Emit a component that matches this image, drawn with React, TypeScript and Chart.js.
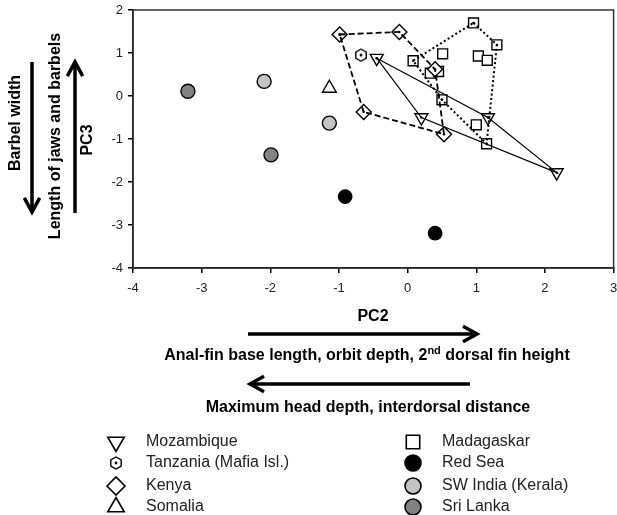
import React, { useEffect, useRef } from 'react';
import { Chart, registerables } from 'chart.js';
import { drawPoint } from 'chart.js/helpers';

Chart.register(...registerables);

// ---------- data ----------
const xTickValues = [-4, -3, -2, -1, 0, 1, 2, 3];
const yTickValues = [-4, -3, -2, -1, 0, 1, 2];

const mozambiqueX = [-0.45, 0.2, 2.17, 1.17];
const mozambiqueY = [0.88, -0.5, -1.78, -0.5];

const tanzaniaX = [-0.68];
const tanzaniaY = [0.95];

const kenyaX = [-0.99, -0.12, 0.4, 0.53, -0.64];
const kenyaY = [1.43, 1.49, 0.62, -0.89, -0.37];

const somaliaX = [-1.14];
const somaliaY = [0.18];

const madagaskarX = [0.96, 1.3, 1.15, 0.5, 0.08, 0.51, 1.03, 1.16, 0.33, 0.45, 1.0];
const madagaskarY = [1.7, 1.19, -1.11, -0.09, 0.82, 0.98, 0.93, 0.83, 0.53, 0.57, -0.67];
const madagaskarHull = [0, 1, 2, 3, 4];

const redSeaX = [-0.91, 0.4];
const redSeaY = [-2.34, -3.19];

const indiaX = [-2.09, -1.14];
const indiaY = [0.34, -0.63];

const sriLankaX = [-3.2, -1.99];
const sriLankaY = [0.11, -1.37];

const legendLeft = ['Mozambique', 'Tanzania (Mafia Isl.)', 'Kenya', 'Somalia'];
const legendRight = ['Madagaskar', 'Red Sea', 'SW India (Kerala)', 'Sri Lanka'];

const FONT = '"Liberation Sans", Arial, Helvetica, sans-serif';
const CANVAS_W = 623;

const pts = (xs: number[], ys: number[]) => xs.map((x, i) => ({ x, y: ys[i] }));
const closed = (xs: number[], ys: number[], idx?: number[]) => {
  const order = idx ?? xs.map((_, i) => i);
  const arr = order.map((i) => ({ x: xs[i], y: ys[i] }));
  arr.push({ x: xs[order[0]], y: ys[order[0]] });
  return arr;
};

function makeHexagon(r: number): HTMLCanvasElement {
  const c = document.createElement('canvas');
  const s = Math.ceil(2 * r + 4);
  c.width = s;
  c.height = s;
  const g = c.getContext('2d')!;
  const cx = s / 2;
  const cy = s / 2;
  g.strokeStyle = '#000';
  g.fillStyle = '#fff';
  g.lineWidth = 1.4;
  g.beginPath();
  for (let i = 0; i < 6; i++) {
    const a = ((-90 + 60 * i) * Math.PI) / 180;
    const px = cx + r * Math.cos(a);
    const py = cy + r * Math.sin(a);
    if (i === 0) g.moveTo(px, py);
    else g.lineTo(px, py);
  }
  g.closePath();
  g.fill();
  g.stroke();
  g.fillStyle = '#000';
  g.beginPath();
  g.arc(cx, cy, 1.4, 0, Math.PI * 2);
  g.fill();
  return c;
}

type Marker = { style: any; radius: number; legendRadius: number; rotation: number; fill: string };

function arrow(ctx: CanvasRenderingContext2D, x1: number, y1: number, x2: number, y2: number) {
  const head = 16;
  const ang = Math.atan2(y2 - y1, x2 - x1);
  ctx.beginPath();
  ctx.moveTo(x1, y1);
  ctx.lineTo(x2 - Math.cos(ang) * 1.5, y2 - Math.sin(ang) * 1.5);
  ctx.stroke();
  ctx.beginPath();
  ctx.moveTo(x2 - head * Math.cos(ang - 0.5), y2 - head * Math.sin(ang - 0.5));
  ctx.lineTo(x2, y2);
  ctx.lineTo(x2 - head * Math.cos(ang + 0.5), y2 - head * Math.sin(ang + 0.5));
  ctx.stroke();
}

function vText(ctx: CanvasRenderingContext2D, text: string, x: number, y: number) {
  ctx.save();
  ctx.translate(x, y);
  ctx.rotate(-Math.PI / 2);
  ctx.fillText(text, 0, 0);
  ctx.restore();
}

export default function App() {
  const ref = useRef<HTMLCanvasElement>(null);

  useEffect(() => {
    if (!ref.current) return;
    const hex = makeHexagon(6);

    const markers: Record<string, Marker> = {
      Mozambique: { style: 'triangle', radius: 7.5, legendRadius: 9.5, rotation: 180, fill: '#fff' },
      'Tanzania (Mafia Isl.)': { style: hex, radius: 6, legendRadius: 6, rotation: 0, fill: '#fff' },
      Kenya: { style: 'rectRot', radius: 7.5, legendRadius: 9, rotation: 0, fill: '#fff' },
      Somalia: { style: 'triangle', radius: 8, legendRadius: 9.5, rotation: 0, fill: '#fff' },
      Madagaskar: { style: 'rect', radius: 7, legendRadius: 9.5, rotation: 0, fill: '#fff' },
      'Red Sea': { style: 'circle', radius: 6.7, legendRadius: 8, rotation: 0, fill: '#000' },
      'SW India (Kerala)': { style: 'circle', radius: 7, legendRadius: 8, rotation: 0, fill: '#c4c4c4' },
      'Sri Lanka': { style: 'circle', radius: 7, legendRadius: 8, rotation: 0, fill: '#828282' },
    };

    const pointDs = (label: string, data: { x: number; y: number }[]) => {
      const m = markers[label];
      return {
        label,
        data,
        order: 2,
        showLine: false,
        pointStyle: m.style,
        pointRadius: m.radius,
        pointRotation: m.rotation,
        pointBackgroundColor: m.fill,
        pointBorderColor: '#000',
        pointBorderWidth: 1.4,
        pointHoverRadius: m.radius,
      };
    };

    const hullDs = (label: string, data: { x: number; y: number }[], dash: number[], width: number) => ({
      label,
      data,
      order: 0,
      showLine: true,
      borderColor: '#000',
      borderWidth: width,
      borderDash: dash,
      pointRadius: 1.2,
      pointStyle: 'circle',
      pointBackgroundColor: '#000',
      pointBorderWidth: 0,
      fill: false,
      tension: 0,
    });

    const decor = {
      id: 'decor',
      afterDraw(chart: any) {
        const ctx: CanvasRenderingContext2D = chart.ctx;
        const a = chart.chartArea;
        ctx.save();
        ctx.strokeStyle = '#333';
        ctx.lineWidth = 1.5;
        ctx.strokeRect(a.left, a.top, a.right - a.left, a.bottom - a.top);

        ctx.fillStyle = '#000';
        ctx.strokeStyle = '#000';
        ctx.lineWidth = 3.5;
        ctx.lineCap = 'butt';
        ctx.lineJoin = 'miter';

        const B = `bold 16px ${FONT}`;
        // horizontal annotation
        ctx.font = B;
        ctx.textAlign = 'center';
        ctx.textBaseline = 'middle';
        ctx.fillText('PC2', 373, 317);
        arrow(ctx, 248, 334, 477, 334);

        const p1 = 'Anal-fin base length, orbit depth, 2';
        const sup = 'nd';
        const p2 = ' dorsal fin height';
        ctx.font = B;
        const w1 = ctx.measureText(p1).width;
        const w3 = ctx.measureText(p2).width;
        ctx.font = `bold 11px ${FONT}`;
        const w2 = ctx.measureText(sup).width;
        const x0 = 367 - (w1 + w2 + w3) / 2;
        ctx.textAlign = 'left';
        ctx.font = B;
        ctx.fillText(p1, x0, 356);
        ctx.font = `bold 11px ${FONT}`;
        ctx.fillText(sup, x0 + w1, 351);
        ctx.font = B;
        ctx.fillText(p2, x0 + w1 + w2, 356);

        arrow(ctx, 470, 384, 250, 384);
        ctx.textAlign = 'center';
        ctx.fillText('Maximum head depth, interdorsal distance', 368, 408);

        // vertical annotation
        arrow(ctx, 32, 62, 32, 212);
        arrow(ctx, 75, 213, 75, 62);
        ctx.font = B;
        vText(ctx, 'Barbel width', 16, 123);
        vText(ctx, 'Length of jaws and barbels', 56, 136);
        vText(ctx, 'PC3', 88, 140);

        // legend
        const rowsY = [442, 463, 486, 507];
        const drawCol = (labels: string[], mx: number, tx: number) => {
          labels.forEach((lab, i) => {
            const m = markers[lab];
            ctx.save();
            ctx.fillStyle = m.fill;
            ctx.strokeStyle = '#000';
            ctx.lineWidth = 1.6;
            ctx.setLineDash([]);
            drawPoint(ctx, { pointStyle: m.style, radius: m.legendRadius, rotation: m.rotation, borderWidth: 1.6 } as any, mx, rowsY[i]);
            ctx.restore();
            ctx.fillStyle = '#222';
            ctx.font = `16px ${FONT}`;
            ctx.textAlign = 'left';
            ctx.textBaseline = 'middle';
            ctx.fillText(lab, tx, rowsY[i]);
          });
        };
        drawCol(legendLeft, 116, 146);
        drawCol(legendRight, 413, 442);
        ctx.restore();
      },
    };

    const chart = new Chart(ref.current, {
      type: 'scatter',
      data: {
        datasets: [
          hullDs('Mozambique hull', closed(mozambiqueX, mozambiqueY), [], 1.2),
          hullDs('Kenya hull', closed(kenyaX, kenyaY), [6, 3], 1.8),
          hullDs('Madagaskar hull', closed(madagaskarX, madagaskarY, madagaskarHull), [2, 2.5], 2),
          pointDs('Mozambique', pts(mozambiqueX, mozambiqueY)),
          pointDs('Tanzania (Mafia Isl.)', pts(tanzaniaX, tanzaniaY)),
          pointDs('Kenya', pts(kenyaX, kenyaY)),
          pointDs('Somalia', pts(somaliaX, somaliaY)),
          pointDs('Madagaskar', pts(madagaskarX, madagaskarY)),
          pointDs('Red Sea', pts(redSeaX, redSeaY)),
          pointDs('SW India (Kerala)', pts(indiaX, indiaY)),
          pointDs('Sri Lanka', pts(sriLankaX, sriLankaY)),
        ] as any,
      },
      options: {
        animation: false,
        responsive: false,
        devicePixelRatio: 1,
        layout: { padding: { left: 0, top: 10, right: 4, bottom: 217 } },
        plugins: { legend: { display: false }, tooltip: { enabled: false } },
        events: [],
        scales: {
          x: {
            type: 'linear',
            min: xTickValues[0],
            max: xTickValues[xTickValues.length - 1],
            afterBuildTicks: (s: any) => {
              s.ticks = xTickValues.map((v) => ({ value: v }));
            },
            afterFit: (s: any) => {
              s.height = 30;
              s.paddingLeft = 0;
              s.paddingRight = 0;
            },
            ticks: { color: '#222', font: { family: FONT, size: 13 }, padding: 8, maxRotation: 0 },
            grid: { drawOnChartArea: false, drawTicks: true, tickLength: 5, color: '#000', lineWidth: 1.5 },
            border: { display: true, color: '#000', width: 1.5 },
          },
          y: {
            type: 'linear',
            min: yTickValues[0],
            max: yTickValues[yTickValues.length - 1],
            afterBuildTicks: (s: any) => {
              s.ticks = yTickValues.map((v) => ({ value: v }));
            },
            afterFit: (s: any) => {
              s.width = 133;
              s.paddingTop = 0;
              s.paddingBottom = 0;
            },
            ticks: { color: '#222', font: { family: FONT, size: 13 }, padding: 5 },
            grid: { drawOnChartArea: false, drawTicks: true, tickLength: 5, color: '#000', lineWidth: 1.5 },
            border: { display: true, color: '#000', width: 1.5 },
          },
        },
      } as any,
      plugins: [decor],
    });
    return () => chart.destroy();
  }, []);

  return (
    <div style={{ position: 'absolute', left: 0, top: 0, width: 617, height: 515, overflow: 'hidden', background: '#fff' }}>
      <canvas ref={ref} width={CANVAS_W} height={515} style={{ display: 'block' }} />
    </div>
  );
}
